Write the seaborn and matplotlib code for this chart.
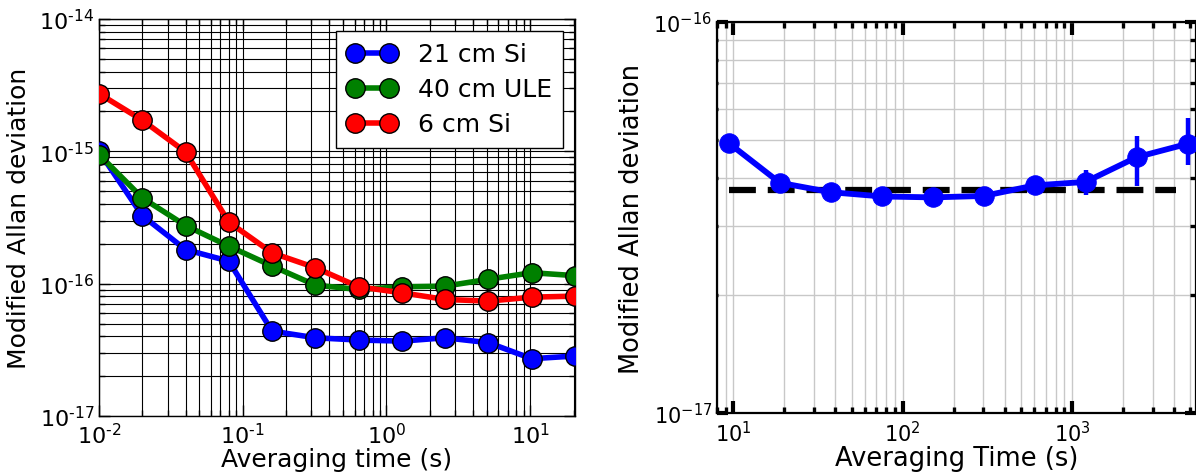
import numpy as np
import pandas as pd
import matplotlib
matplotlib.use("Agg")
import matplotlib.pyplot as plt
import matplotlib.ticker as mticker
import seaborn as sns

# ---------------- data ----------------
# left panel: averaging time (s) and modified Allan deviation
tau_left = [0.01, 0.02, 0.04, 0.08, 0.16, 0.32, 0.64, 1.28, 2.56, 5.12, 10.24, 20.48]
dev_21cm_si = [1.00e-15, 3.27e-16, 1.81e-16, 1.48e-16, 4.38e-17, 3.90e-17,
               3.75e-17, 3.68e-17, 3.90e-17, 3.58e-17, 2.71e-17, 2.84e-17]
dev_40cm_ule = [9.46e-16, 4.45e-16, 2.75e-16, 1.92e-16, 1.36e-16, 9.75e-17,
                9.04e-17, 9.47e-17, 9.58e-17, 1.08e-16, 1.21e-16, 1.15e-16]
dev_6cm_si = [2.73e-15, 1.72e-15, 9.90e-16, 2.92e-16, 1.71e-16, 1.32e-16,
              9.47e-17, 8.53e-17, 7.60e-17, 7.38e-17, 7.91e-17, 8.05e-17]
series_names = ["21 cm Si", "40 cm ULE", "6 cm Si"]
series_colors = ["#0000ff", "#008000", "#ff0000"]

# right panel
tau_right = [9.4, 18.8, 37.6, 75.2, 150.4, 300.8, 601.6, 1203.2, 2406.4, 4812.8]
dev_right = [4.90e-17, 3.88e-17, 3.67e-17, 3.58e-17, 3.56e-17, 3.59e-17,
             3.82e-17, 3.90e-17, 4.51e-17, 4.88e-17]
err_lo_right = [0.05e-17, 0.05e-17, 0.06e-17, 0.07e-17, 0.08e-17, 0.10e-17,
                0.14e-17, 0.28e-17, 0.71e-17, 0.56e-17]
err_hi_right = [0.05e-17, 0.05e-17, 0.06e-17, 0.07e-17, 0.08e-17, 0.10e-17,
                0.15e-17, 0.29e-17, 0.59e-17, 0.80e-17]
floor_tau = [9.4, 4100.0]
floor_dev = [3.71e-17, 3.71e-17]

# ---------------- figure ----------------
plt.rcParams['font.family'] = ['DejaVu Sans']
fig = plt.figure(figsize=(11.96, 4.77), dpi=100)

# ===== left panel =====
axL = fig.add_axes([99 / 1196, 1 - 417 / 477, 476 / 1196, 397 / 477])
df_left = pd.DataFrame({
    "tau": tau_left * 3,
    "dev": dev_21cm_si + dev_40cm_ule + dev_6cm_si,
    "cavity": [series_names[0]] * len(tau_left) + [series_names[1]] * len(tau_left)
              + [series_names[2]] * len(tau_left),
})
sns.lineplot(data=df_left, x="tau", y="dev", hue="cavity", hue_order=series_names,
             palette=series_colors, estimator=None, sort=False, ax=axL, legend=False,
             marker="o", markersize=14, markeredgecolor="black", markeredgewidth=1,
             linewidth=4, zorder=3)
axL.set_xscale("log")
axL.set_yscale("log")
axL.set_xlim(0.01, 20.48)
axL.set_ylim(1e-17, 1e-14)
axL.grid(True, which="both", color="black", linewidth=0.8)
axL.set_axisbelow(True)
for s in axL.spines.values():
    s.set_color("black")
    s.set_linewidth(1.0)
axL.tick_params(which="both", direction="in", top=True, right=True, colors="black",
                labelsize=16)
axL.tick_params(which="major", length=8, width=1)
axL.tick_params(which="minor", length=4, width=1)
axL.xaxis.set_major_locator(mticker.LogLocator(base=10, numticks=10))
axL.yaxis.set_major_locator(mticker.LogLocator(base=10, numticks=10))
axL.xaxis.set_minor_locator(mticker.LogLocator(base=10, subs=np.arange(2, 10), numticks=20))
axL.yaxis.set_minor_locator(mticker.LogLocator(base=10, subs=np.arange(2, 10), numticks=20))
axL.xaxis.set_minor_formatter(mticker.NullFormatter())
axL.yaxis.set_minor_formatter(mticker.NullFormatter())


def hyphen_fmt(v, pos):
    e = int(round(np.log10(v)))
    if e < 0:
        return r"$10^{\text{-}%d}$" % (-e)
    return r"$10^{%d}$" % e


axL.xaxis.set_major_formatter(mticker.FuncFormatter(hyphen_fmt))
axL.yaxis.set_major_formatter(mticker.FuncFormatter(hyphen_fmt))
axL.tick_params(axis="x", pad=4)
axL.set_xlabel("Averaging time (s)", fontsize=18, labelpad=0)
axL.set_ylabel("Modified Allan deviation", fontsize=18, labelpad=6)

handles = axL.get_lines()[:3]
leg = axL.legend(handles, series_names, loc="upper right", fontsize=18, numpoints=2,
                 handlelength=1.95, fancybox=False, framealpha=1, edgecolor="black",
                 borderaxespad=0.48, handletextpad=0.85, labelspacing=0.44,
                 borderpad=0.45)
leg.get_frame().set_linewidth(1.0)

# ===== right panel =====
axR = fig.add_axes([717 / 1196, 1 - 414 / 477, 479 / 1196, 391 / 477])
sns.lineplot(x=floor_tau, y=floor_dev, ax=axR, color="black", linewidth=4.5,
             dashes=False, legend=False, zorder=2)
axR.lines[-1].set_dashes([4.3, 1.9])
axR.errorbar(tau_right, dev_right, yerr=[err_lo_right, err_hi_right], fmt="none",
             ecolor="#0000ff", elinewidth=3.2, capsize=0, zorder=3)
sns.lineplot(x=tau_right, y=dev_right, ax=axR, color="#0000ff", linewidth=4.2,
             marker="o", markersize=14, markeredgecolor="#0000ff", estimator=None,
             sort=False, legend=False, zorder=4)
axR.set_xscale("log")
axR.set_yscale("log")
axR.set_xlim(8.0, 5400)
axR.set_ylim(1e-17, 1e-16)
axR.grid(True, which="both", color="#c8c8c8", linewidth=1.0)
axR.set_axisbelow(True)
for s in axR.spines.values():
    s.set_color("black")
    s.set_linewidth(1.6)
axR.xaxis.set_major_locator(mticker.LogLocator(base=10, numticks=10))
axR.xaxis.set_minor_locator(mticker.LogLocator(base=10, subs=np.arange(2, 10), numticks=20))
axR.yaxis.set_major_locator(mticker.LogLocator(base=10, numticks=10))
axR.yaxis.set_minor_locator(mticker.LogLocator(base=10, subs=np.arange(2, 10), numticks=20))
axR.xaxis.set_minor_formatter(mticker.NullFormatter())
axR.yaxis.set_minor_formatter(mticker.NullFormatter())
axR.tick_params(which="both", direction="in", colors="black", labelsize=15)
axR.tick_params(axis="x", which="both", top=True, bottom=True)
axR.tick_params(axis="x", which="major", length=9, width=3)
axR.tick_params(axis="x", which="minor", length=4, width=2.4)
axR.tick_params(axis="y", which="major", left=True, right=True, length=8, width=3)
axR.tick_params(axis="y", which="minor", left=True, right=True, length=4, width=2.4)
for t in axR.yaxis.get_minor_ticks():
    t.tick1line.set_markersize(1)
axR.tick_params(axis="x", pad=5)
axR.set_xlabel("Averaging Time (s)", fontsize=18.5, labelpad=0)
axR.set_ylabel("Modified Allan deviation", fontsize=18.5, labelpad=6)

fig.savefig("out.png", dpi=100)
